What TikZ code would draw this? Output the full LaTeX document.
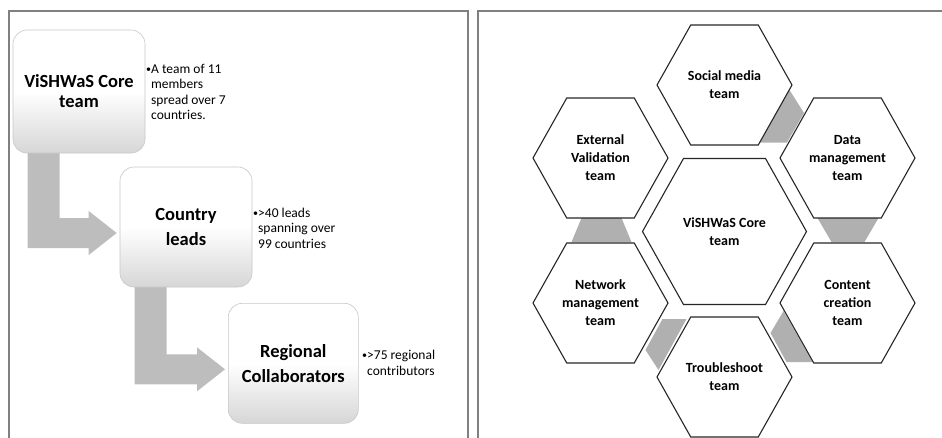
\documentclass[tikz,border=0pt]{standalone}
\usepackage{fontspec}
\setmainfont{Carlito}
\usepackage{tikz}
\usetikzlibrary{calc,positioning,backgrounds}

\newcommand{\bul}{\makebox[5pt][l]{\fontsize{10}{10}\selectfont\raisebox{1pt}{•}}}
\newcommand{\nobul}{\hspace*{5pt}}
% hexagon outline round a label node: name, half width, half height
\newcommand{\hexframe}[3]{%
  \draw[hexline] ($(#1)+(-#2,0)$) -- ($(#1)+(-#2/2,-#3)$) -- ($(#1)+(#2/2,-#3)$)
    -- ($(#1)+(#2,0)$) -- ($(#1)+(#2/2,#3)$) -- ($(#1)+(-#2/2,#3)$) -- cycle;}
% bent arrow from the foot of one card to the side of the next
\newcommand{\bentarrow}[2]{%
  \fill[flow] ($(#1.south west)+(15,-10)$) |- ($(#2.west)+(-31,21)$)
    -- ($(#2.west)+(-31,28)$) -- ($(#2.west)+(-3,6)$) -- ($(#2.west)+(-31,-16)$)
    -- ($(#2.west)+(-31,-9)$) -| ($(#1.south west)+(47,-10)$) -- cycle;}

\begin{document}
\begin{tikzpicture}
  [
    x=1pt, y=-1pt,
    frame/.style={draw=black!50, line width=1.5pt},
    card/.style={rectangle, rounded corners=14pt, draw=black!22, line width=0.6pt,
      top color=white, bottom color=black!16, middle color=white,
      align=center, inner sep=0pt, font=\fontsize{18.5}{25}\selectfont\bfseries},
    info/.style={align=left, inner sep=0pt, anchor=west, font=\fontsize{13.5}{15.5}\selectfont},
    flow/.style={fill=black!26},
    hexlabel/.style={align=center, inner sep=0pt, font=\fontsize{14}{18}\selectfont\bfseries},
    hexline/.style={draw=black!85, line width=1.1pt, line join=miter},
    link/.style={fill=black!31}
  ]
  \useasboundingbox (0,0) rectangle (942,437);
  % Panels
  \draw[frame] (9,445) -- (9,11) -- (468,11) -- (468,445);
  \draw[frame] (478,445) -- (478,11) -- (950,11);

  % Cards
  \node[card, minimum width=132, minimum height=123, font=\fontsize{18.5}{20}\selectfont\bfseries]
    (core) at (79,91.5) {ViSHWaS Core\\team};
  \node[card, minimum width=132, minimum height=120] (leads) at (186,227) {Country\\leads};
  \node[card, minimum width=130, minimum height=120] (regional) at (293.3,363.3) {Regional\\Collaborators};
  % Notes
  \node[info] (coreinfo) at (146,92) {\bul A team of 11\\\nobul members\\\nobul spread over 7\\\nobul countries.};
  \node[info] (leadsinfo) at (253,228) {\bul >40 leads\\\nobul spanning over\\\nobul 99 countries};
  \node[info] (reginfo) at (362,363) {\bul >75 regional\\\nobul contributors};
  % Arrows
  \begin{scope}[on background layer]
    \bentarrow{core}{leads}
    \bentarrow{leads}{regional}
  \end{scope}

  % Hexagons
  \node[hexlabel] (hcore) at (724.5,231.5) {ViSHWaS Core\\team};
  \node[hexlabel] (hsocial) at (724.5,85) {Social media\\team};
  \node[hexlabel] (hdata) at (847.5,158) {Data\\management\\team};
  \node[hexlabel] (hcontent) at (847.5,303) {Content\\creation\\team};
  \node[hexlabel] (htrouble) at (724.5,377) {Troubleshoot\\team};
  \node[hexlabel] (hnetwork) at (600.5,303) {Network\\management\\team};
  \node[hexlabel] (hexternal) at (600.5,158) {External\\Validation\\team};
  % Links
  \fill[link] ($(hsocial)+(65,5)$) -- ($(hdata)+(-43.5,-45)$) -- ($(hdata)+(-60.5,-15.5)$)
    -- ($(hsocial)+(35.5,57.5)$) -- cycle;
  \fill[link] ($(hdata)+(-30,60)$) -- ($(hdata)+(31,60)$) -- ($(hcontent)+(17,-61)$)
    -- ($(hcontent)+(-16,-61)$) -- cycle;
  \fill[link] ($(hcontent)+(-64,8)$) -- ($(hcontent)+(-35,59)$) -- ($(htrouble)+(62,-15)$)
    -- ($(htrouble)+(46,-44)$) -- cycle;
  \fill[link] ($(hnetwork)+(62,16)$) -- ($(htrouble)+(-38,-58)$) -- ($(htrouble)+(-66,-7)$)
    -- ($(hnetwork)+(45,47)$) -- cycle;
  \fill[link] ($(hexternal)+(-19,60)$) -- ($(hexternal)+(21,60)$) -- ($(hnetwork)+(31,-61)$)
    -- ($(hnetwork)+(-29,-61)$) -- cycle;
  % Outlines
  \hexframe{hcore}{82}{73}
  \hexframe{hsocial}{67.5}{60}
  \hexframe{hdata}{67.5}{60}
  \hexframe{hcontent}{67.5}{60}
  \hexframe{htrouble}{67.5}{60}
  \hexframe{hnetwork}{67.5}{60}
  \hexframe{hexternal}{67.5}{60}
\end{tikzpicture}
\end{document}
